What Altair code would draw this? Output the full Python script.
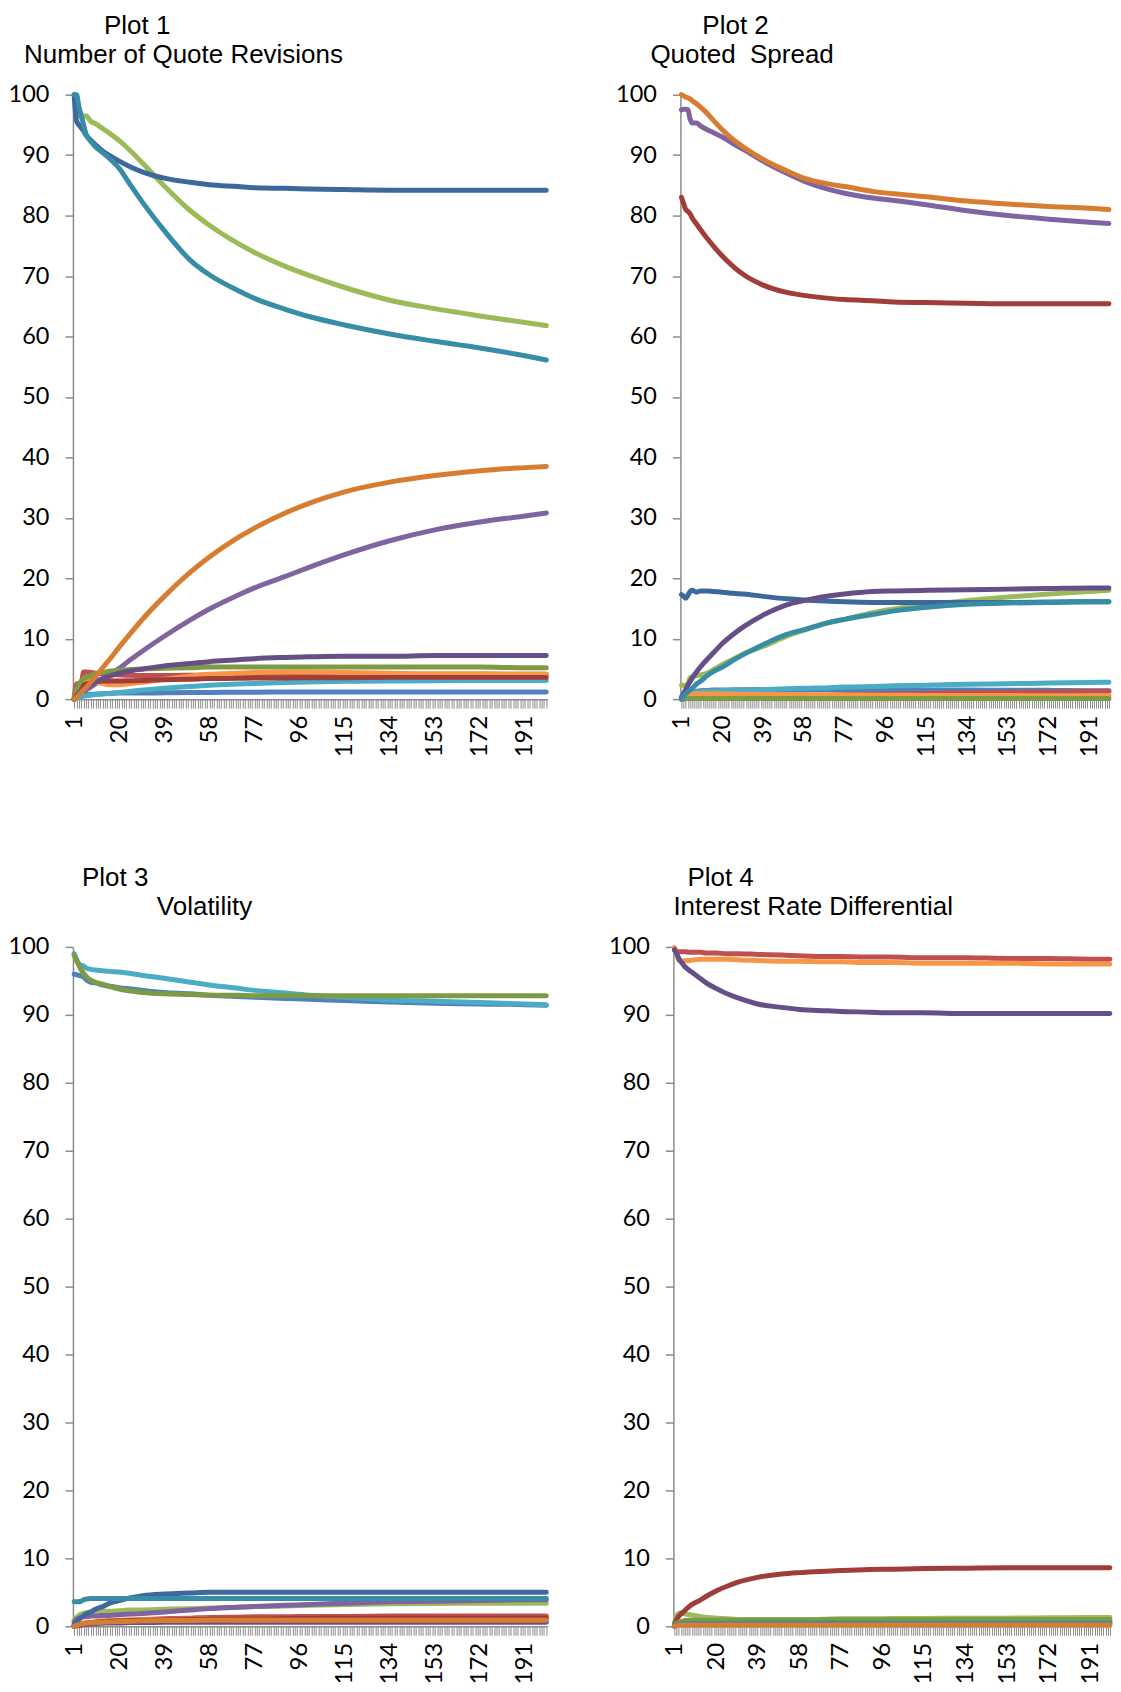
import altair as alt
import pandas as pd

T = [1, 2, 3, 4, 5, 6, 8, 10, 13, 16, 20, 25, 30, 39, 50, 58, 70, 77, 90, 100, 115, 134, 153, 172, 191, 200]
X_TICKS = list(range(1, 201))
Y_TICKS = list(range(0, 101, 10))

SERIES = ["s01", "s02", "s03", "s04", "s05", "s06", "s07", "s08", "s09", "s10", "s11", "s12"]
COLORS = ["#4F81BD", "#C0504D", "#9BBB59", "#8064A2", "#4BACC6", "#F79646",
          "#3D689C", "#A03D3A", "#7E9A45", "#664F87", "#378DA5", "#D77D31"]

# ---------------- Plot 1: Number of Quote Revisions ----------------
p1_blue = [0, 0.4, 0.5, 0.6, 0.7, 0.75, 0.8, 0.85, 0.9, 0.95, 1.0, 1.0, 1.0, 1.05, 1.1, 1.1, 1.15, 1.15, 1.2, 1.2, 1.2, 1.2, 1.2, 1.2, 1.2, 1.2]
p1_red = [0.3, 2.5, 2.6, 2.6, 4.5, 4.5, 4.4, 4.3, 4.2, 4.1, 4.0, 3.95, 3.9, 3.9, 3.95, 4.0, 4.0, 4.0, 4.0, 4.05, 4.05, 4.1, 4.1, 4.1, 4.1, 4.1]
p1_green = [100, 99, 96.5, 96.8, 96.3, 96.5, 95.6, 95.2, 94.4, 93.6, 92.4, 90.6, 88.6, 84.9, 80.8, 78.4, 75.4, 73.9, 71.6, 70.1, 68.1, 66.0, 64.6, 63.4, 62.3, 61.8]
p1_purple = [0, 0.3, 0.6, 0.9, 1.2, 1.5, 2.0, 2.5, 3.3, 4.1, 5.1, 6.6, 8.0, 10.4, 13.1, 14.9, 17.2, 18.4, 20.3, 21.8, 23.9, 26.2, 28.0, 29.3, 30.3, 30.8]
p1_aqua = [0, 0.2, 0.3, 0.4, 0.5, 0.55, 0.65, 0.75, 0.85, 0.95, 1.1, 1.3, 1.5, 1.8, 2.1, 2.3, 2.5, 2.6, 2.75, 2.85, 2.95, 3.0, 3.05, 3.1, 3.1, 3.1]
p1_orange = [0, 1.5, 2.3, 2.5, 2.8, 3.0, 3.1, 2.9, 2.6, 2.4, 2.4, 2.6, 2.8, 3.3, 3.8, 4.1, 4.3, 4.4, 4.5, 4.5, 4.4, 4.3, 4.2, 4.2, 4.1, 4.1]
p1_dblue = [100, 95.7, 95.0, 94.5, 94.0, 93.3, 92.5, 91.7, 90.7, 89.9, 89.0, 88.0, 87.2, 86.2, 85.5, 85.1, 84.8, 84.6, 84.5, 84.4, 84.3, 84.2, 84.2, 84.2, 84.2, 84.2]
p1_dred = [0, 0.8, 1.5, 2.0, 2.3, 2.5, 2.7, 2.9, 3.0, 3.0, 3.0, 3.05, 3.1, 3.2, 3.3, 3.4, 3.45, 3.5, 3.5, 3.55, 3.55, 3.6, 3.6, 3.6, 3.6, 3.6]
p1_dgreen = [0, 1.5, 2.5, 3.0, 3.4, 3.6, 3.9, 4.2, 4.4, 4.6, 4.8, 4.9, 5.0, 5.1, 5.2, 5.3, 5.3, 5.3, 5.3, 5.3, 5.3, 5.3, 5.3, 5.3, 5.2, 5.2]
p1_dpurple = [0, 0.5, 1.0, 1.3, 1.6, 1.9, 2.4, 2.9, 3.4, 3.8, 4.3, 4.7, 5.0, 5.5, 5.9, 6.2, 6.5, 6.7, 6.9, 7.0, 7.1, 7.1, 7.2, 7.2, 7.2, 7.2]
p1_dteal = [100, 100, 98.0, 96.5, 95.0, 93.5, 92.3, 91.4, 90.4, 89.4, 87.8, 84.9, 82.1, 77.5, 72.6, 70.2, 67.6, 66.3, 64.5, 63.3, 61.9, 60.4, 59.2, 58.1, 56.8, 56.1]
p1_dorange = [0, 0.3, 0.7, 1.1, 1.5, 1.9, 2.8, 3.7, 5.2, 6.6, 8.6, 11.0, 13.3, 17.0, 21.0, 23.5, 26.7, 28.3, 30.8, 32.4, 34.3, 35.9, 37.0, 37.8, 38.3, 38.5]

# ---------------- Plot 2: Quoted Spread ----------------
p2_blue = [0.3, 0.8, 1.0, 1.1, 1.2, 1.25, 1.3, 1.4, 1.45, 1.5, 1.5, 1.55, 1.55, 1.6, 1.6, 1.6, 1.6, 1.6, 1.55, 1.55, 1.5, 1.5, 1.45, 1.45, 1.4, 1.4]
p2_red = [0, 0.05, 0.1, 0.1, 0.15, 0.15, 0.2, 0.2, 0.25, 0.3, 0.3, 0.35, 0.4, 0.45, 0.55, 0.6, 0.7, 0.75, 0.8, 0.85, 0.95, 1.05, 1.15, 1.2, 1.3, 1.3]
p2_green = [2.3, 2.3, 2.2, 2.6, 3.5, 3.7, 3.9, 4.0, 4.3, 4.9, 5.7, 6.6, 7.5, 8.7, 10.4, 11.4, 12.7, 13.2, 14.3, 14.9, 15.6, 16.3, 16.9, 17.4, 17.8, 18.0]
p2_purple = [97.5, 97.6, 97.6, 97.5, 96.0, 95.3, 95.3, 94.8, 94.2, 93.7, 93.0, 91.9, 90.9, 89.0, 87.0, 85.7, 84.3, 83.7, 82.9, 82.5, 81.8, 80.8, 80.0, 79.4, 78.9, 78.7]
p2_aqua = [0.4, 0.6, 0.8, 0.9, 1.0, 1.1, 1.2, 1.25, 1.3, 1.35, 1.4, 1.45, 1.5, 1.6, 1.7, 1.8, 1.9, 2.0, 2.1, 2.2, 2.3, 2.45, 2.55, 2.65, 2.75, 2.8]
p2_orange = [0, 0.3, 0.6, 0.8, 0.85, 0.9, 0.9, 0.9, 0.9, 0.9, 0.85, 0.85, 0.8, 0.8, 0.75, 0.75, 0.7, 0.7, 0.65, 0.65, 0.6, 0.6, 0.6, 0.55, 0.55, 0.55]
p2_dblue = [17.3, 17.0, 16.7, 17.2, 17.8, 18.0, 17.7, 17.9, 17.9, 17.8, 17.7, 17.5, 17.4, 17.0, 16.6, 16.4, 16.2, 16.1, 16.0, 16.0, 16.0, 16.0, 16.0, 16.05, 16.1, 16.1]
p2_dred = [83.0, 82.0, 81.0, 80.7, 80.3, 79.6, 78.6, 77.6, 76.2, 74.9, 73.3, 71.6, 70.2, 68.5, 67.3, 66.8, 66.3, 66.1, 65.9, 65.7, 65.6, 65.5, 65.4, 65.4, 65.4, 65.4]
p2_dgreen = [0, 0.05, 0.05, 0.1, 0.1, 0.1, 0.1, 0.1, 0.1, 0.1, 0.1, 0.1, 0.1, 0.1, 0.1, 0.1, 0.1, 0.1, 0.1, 0.1, 0.1, 0.1, 0.1, 0.1, 0.1, 0.1]
p2_dpurple = [0.2, 0.9, 1.6, 2.3, 2.9, 3.5, 4.5, 5.4, 6.6, 7.7, 9.2, 10.7, 12.0, 13.9, 15.6, 16.3, 17.1, 17.4, 17.8, 17.9, 18.0, 18.1, 18.2, 18.3, 18.4, 18.4]
p2_dteal = [0, 0.5, 0.9, 1.2, 1.5, 1.8, 2.5, 3.0, 3.9, 4.6, 5.3, 6.4, 7.4, 9.0, 10.7, 11.5, 12.7, 13.2, 14.0, 14.6, 15.2, 15.7, 15.9, 16.0, 16.1, 16.1]
p2_dorange = [100, 99.8, 99.6, 99.5, 99.3, 99.0, 98.5, 97.9, 96.9, 95.7, 94.2, 92.6, 91.3, 89.3, 87.4, 86.2, 85.2, 84.8, 84.0, 83.6, 83.1, 82.4, 81.9, 81.5, 81.2, 81.0]

# ---------------- Plot 3: Volatility ----------------
p3_blue = [96.0, 95.9, 95.8, 95.7, 95.6, 95.2, 94.8, 94.7, 94.4, 94.2, 94.0, 93.8, 93.6, 93.3, 93.1, 92.9, 92.7, 92.6, 92.4, 92.3, 92.1, 91.9, 91.7, 91.6, 91.5, 91.4]
p3_red = [0, 0.1, 0.15, 0.2, 0.3, 0.35, 0.4, 0.5, 0.6, 0.7, 0.8, 0.9, 1.0, 1.1, 1.2, 1.3, 1.35, 1.4, 1.4, 1.45, 1.45, 1.5, 1.5, 1.5, 1.5, 1.5]
p3_green = [0.9, 1.3, 1.6, 1.8, 1.9, 2.0, 2.1, 2.1, 2.2, 2.2, 2.3, 2.4, 2.4, 2.5, 2.6, 2.7, 2.8, 2.9, 3.0, 3.1, 3.2, 3.3, 3.35, 3.4, 3.4, 3.4]
p3_purple = [0.6, 1.0, 1.2, 1.3, 1.4, 1.4, 1.5, 1.5, 1.6, 1.6, 1.7, 1.8, 1.9, 2.1, 2.4, 2.6, 2.8, 2.9, 3.1, 3.2, 3.4, 3.6, 3.7, 3.8, 3.9, 3.9]
p3_aqua = [99.0, 98.2, 97.5, 97.3, 97.2, 96.9, 96.7, 96.6, 96.5, 96.4, 96.3, 96.1, 95.8, 95.4, 94.8, 94.4, 93.9, 93.6, 93.2, 92.9, 92.6, 92.2, 92.0, 91.8, 91.6, 91.5]
p3_orange = [0, 0.2, 0.3, 0.4, 0.5, 0.55, 0.6, 0.7, 0.8, 0.85, 0.9, 0.95, 1.0, 1.0, 1.05, 1.05, 1.1, 1.1, 1.1, 1.1, 1.1, 1.1, 1.1, 1.1, 1.1, 1.1]
p3_dblue = [0.2, 0.6, 1.0, 1.3, 1.6, 1.8, 2.1, 2.5, 2.9, 3.4, 3.8, 4.2, 4.5, 4.75, 4.9, 5.0, 5.0, 5.0, 5.0, 5.0, 5.0, 5.0, 5.0, 5.0, 5.0, 5.0]
p3_dred = [0, 0.1, 0.2, 0.3, 0.35, 0.4, 0.5, 0.6, 0.7, 0.75, 0.8, 0.85, 0.9, 0.95, 1.0, 1.05, 1.1, 1.1, 1.15, 1.15, 1.2, 1.2, 1.2, 1.2, 1.2, 1.2]
p3_dgreen = [98.8, 98.0, 97.3, 96.6, 96.1, 95.7, 95.1, 94.8, 94.5, 94.2, 93.8, 93.5, 93.3, 93.1, 93.0, 92.9, 92.9, 92.8, 92.8, 92.8, 92.8, 92.8, 92.8, 92.8, 92.8, 92.8]
p3_dpurple = [0, 0.1, 0.15, 0.2, 0.25, 0.3, 0.35, 0.4, 0.45, 0.5, 0.5, 0.55, 0.55, 0.6, 0.6, 0.6, 0.6, 0.6, 0.6, 0.6, 0.6, 0.6, 0.6, 0.6, 0.6, 0.6]
p3_dteal = [3.6, 3.6, 3.6, 3.7, 3.9, 4.0, 4.1, 4.1, 4.1, 4.1, 4.1, 4.1, 4.1, 4.1, 4.1, 4.1, 4.1, 4.1, 4.1, 4.1, 4.1, 4.1, 4.1, 4.1, 4.1, 4.1]
p3_dorange = [0, 0.15, 0.25, 0.35, 0.4, 0.45, 0.5, 0.55, 0.6, 0.65, 0.7, 0.75, 0.8, 0.85, 0.85, 0.9, 0.9, 0.9, 0.9, 0.9, 0.9, 0.9, 0.9, 0.9, 0.9, 0.9]

# ---------------- Plot 4: Interest Rate Differential ----------------
p4_blue = [0, 0.2, 0.25, 0.3, 0.3, 0.3, 0.3, 0.3, 0.3, 0.3, 0.3, 0.3, 0.3, 0.3, 0.3, 0.3, 0.3, 0.3, 0.3, 0.3, 0.3, 0.3, 0.3, 0.3, 0.3, 0.3]
p4_red = [99.5, 99.4, 99.3, 99.3, 99.3, 99.3, 99.2, 99.2, 99.2, 99.1, 99.1, 99.0, 99.0, 98.9, 98.8, 98.7, 98.6, 98.6, 98.5, 98.5, 98.4, 98.4, 98.3, 98.3, 98.2, 98.2]
p4_green = [0.5, 1.5, 1.9, 2.0, 1.9, 1.8, 1.7, 1.6, 1.4, 1.3, 1.2, 1.1, 1.0, 1.0, 1.0, 1.0, 1.05, 1.1, 1.1, 1.15, 1.15, 1.2, 1.2, 1.25, 1.3, 1.3]
p4_purple = [0, 0.1, 0.2, 0.25, 0.3, 0.35, 0.4, 0.45, 0.5, 0.5, 0.55, 0.6, 0.6, 0.65, 0.65, 0.7, 0.7, 0.7, 0.75, 0.75, 0.75, 0.8, 0.8, 0.8, 0.8, 0.8]
p4_aqua = [0.1, 0.3, 0.4, 0.45, 0.45, 0.45, 0.45, 0.45, 0.45, 0.45, 0.45, 0.45, 0.45, 0.45, 0.5, 0.5, 0.5, 0.5, 0.5, 0.5, 0.5, 0.5, 0.5, 0.5, 0.5, 0.5]
p4_orange = [99.9, 99.0, 98.0, 97.9, 97.9, 98.0, 98.0, 98.1, 98.2, 98.2, 98.2, 98.2, 98.1, 98.0, 97.9, 97.9, 97.8, 97.8, 97.7, 97.7, 97.6, 97.6, 97.6, 97.5, 97.5, 97.5]
p4_dblue = [0, 0.3, 0.5, 0.55, 0.6, 0.6, 0.6, 0.6, 0.6, 0.6, 0.6, 0.6, 0.6, 0.6, 0.6, 0.6, 0.6, 0.6, 0.6, 0.6, 0.6, 0.6, 0.6, 0.6, 0.6, 0.6]
p4_dred = [0.2, 1.0, 1.5, 1.8, 2.1, 2.4, 3.0, 3.4, 3.9, 4.5, 5.2, 5.9, 6.5, 7.2, 7.7, 7.9, 8.1, 8.2, 8.35, 8.4, 8.5, 8.55, 8.6, 8.6, 8.6, 8.6]
p4_dgreen = [0.1, 0.4, 0.6, 0.7, 0.8, 0.85, 0.9, 0.9, 0.9, 0.9, 0.9, 0.9, 0.9, 0.9, 0.9, 0.9, 0.95, 0.95, 0.95, 0.95, 0.95, 1.0, 1.0, 1.0, 1.0, 1.0]
p4_dpurple = [99.6, 99.0, 98.3, 97.8, 97.4, 97.0, 96.5, 96.0, 95.3, 94.6, 93.9, 93.1, 92.5, 91.6, 91.1, 90.8, 90.6, 90.5, 90.4, 90.3, 90.3, 90.2, 90.2, 90.2, 90.2, 90.2]
p4_dteal = [0, 0.2, 0.3, 0.35, 0.4, 0.4, 0.4, 0.4, 0.4, 0.4, 0.4, 0.4, 0.45, 0.45, 0.45, 0.45, 0.45, 0.45, 0.45, 0.45, 0.45, 0.45, 0.45, 0.45, 0.45, 0.45]
p4_dorange = [0, 0.1, 0.15, 0.2, 0.2, 0.2, 0.2, 0.2, 0.2, 0.2, 0.2, 0.2, 0.2, 0.2, 0.2, 0.2, 0.2, 0.2, 0.2, 0.2, 0.2, 0.2, 0.2, 0.2, 0.2, 0.2]

P1 = [p1_blue, p1_red, p1_green, p1_purple, p1_aqua, p1_orange, p1_dblue, p1_dred, p1_dgreen, p1_dpurple, p1_dteal, p1_dorange]
P2 = [p2_blue, p2_red, p2_green, p2_purple, p2_aqua, p2_orange, p2_dblue, p2_dred, p2_dgreen, p2_dpurple, p2_dteal, p2_dorange]
P3 = [p3_blue, p3_red, p3_green, p3_purple, p3_aqua, p3_orange, p3_dblue, p3_dred, p3_dgreen, p3_dpurple, p3_dteal, p3_dorange]
P4 = [p4_blue, p4_red, p4_green, p4_purple, p4_aqua, p4_orange, p4_dblue, p4_dred, p4_dgreen, p4_dpurple, p4_dteal, p4_dorange]

TITLE_FONT = "Liberation Sans"
TICK_FONT = "Lato"
GREY = "#8C8C8C"
LABEL_TEST = "(datum.value - 1) % 19 == 0"


def frame(arrays):
    rows = []
    for k, (name, vals) in enumerate(zip(SERIES, arrays)):
        for t, v in zip(T, vals):
            rows.append({"t": t, "v": v, "s": name, "k": k})
    return pd.DataFrame(rows)


def panel(arrays, w, h, plot_title, plot_dx, sub_title, sub_dx):
    df = frame(arrays)
    x = alt.X("t:Q",
              scale=alt.Scale(domain=[0.5, 200.5], nice=False, zero=False),
              axis=alt.Axis(values=X_TICKS,
                            labelExpr=LABEL_TEST + " ? datum.label : ''",
                            labelFontSize={"condition": {"test": LABEL_TEST, "value": 24}, "value": 0},
                            labelAngle=270, labelOverlap=False, labelFlush=False,
                            labelFont=TICK_FONT, labelColor="black",
                            labelPadding=7, tickSize=9, tickColor=GREY, tickWidth=1,
                            domainColor=GREY, domainWidth=1.5, grid=False, title=None,
                            minExtent=60, maxExtent=60))
    y = alt.Y("v:Q",
              scale=alt.Scale(domain=[0, 100], nice=False, zero=True),
              axis=alt.Axis(values=Y_TICKS, labelFont=TICK_FONT, labelFontSize=23.5,
                            labelColor="black", labelPadding=16, tickSize=8,
                            tickColor=GREY, tickWidth=1.5, domainColor=GREY,
                            domainWidth=1.5, grid=False, title=None,
                            minExtent=64, maxExtent=64))
    color = alt.Color("s:N", scale=alt.Scale(domain=SERIES, range=COLORS), legend=None)
    inner = (
        alt.Chart(df)
        .mark_line(strokeWidth=5, strokeCap="round", strokeJoin="round", interpolate="monotone")
        .encode(x=x, y=y, color=color, order="t:Q")
        .properties(width=w, height=h,
                    title=alt.Title(sub_title, anchor="start", frame="group", dx=sub_dx,
                                    offset=15, fontSize=26, font=TITLE_FONT,
                                    fontWeight="normal", color="black"))
    )
    return alt.vconcat(inner, spacing=0,
                       title=alt.Title(plot_title, anchor="start", frame="group", dx=plot_dx,
                                       offset=3, fontSize=26, font=TITLE_FONT,
                                       fontWeight="normal", color="black"))


c1 = panel(P1, 475, 605, "Plot 1", 31, "Number of Quote Revisions", -49)
c2 = panel(P2, 430, 605, "Plot 2", 22, "Quoted\u00a0 Spread", -30)
c3 = panel(P3, 475, 680, "Plot 3", 9, "Volatility", 84)
c4 = panel(P4, 438, 680, "Plot 4", 14, "Interest Rate Differential", 0)

row1 = alt.hconcat(c1, c2, spacing=66)
row2 = alt.hconcat(c3, c4, spacing=59)

chart = (
    alt.vconcat(row1, row2, spacing=106)
    .properties(padding={"top": 4, "left": 0, "right": 0, "bottom": 0})
    .configure_view(stroke=None)
)

chart.save("out.html", embed_options={"renderer": "svg", "actions": False})
